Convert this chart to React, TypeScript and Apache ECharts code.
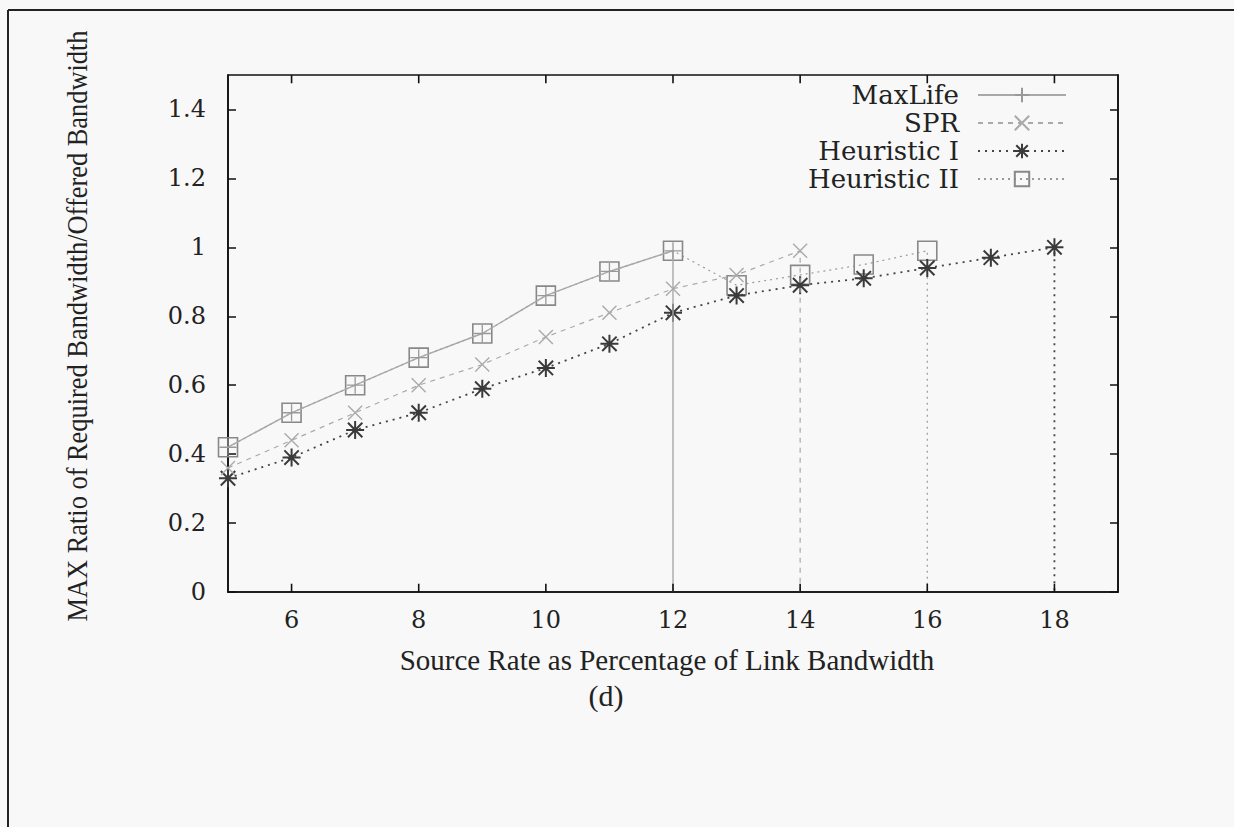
import React, { useEffect, useRef } from "react";
import * as echarts from "echarts";

const xValues = [5, 6, 7, 8, 9, 10, 11, 12, 13, 14, 15, 16, 17, 18];
const maxLife = [0.42, 0.52, 0.6, 0.68, 0.75, 0.86, 0.93, 0.99];
const spr = [0.36, 0.44, 0.52, 0.6, 0.66, 0.74, 0.81, 0.88, 0.92, 0.99];
const heuristic1 = [0.33, 0.39, 0.47, 0.52, 0.59, 0.65, 0.72, 0.81, 0.86, 0.89, 0.91, 0.94, 0.97, 1.0];
const heuristic2 = [0.42, 0.52, 0.6, 0.68, 0.75, 0.86, 0.93, 0.99, 0.89, 0.92, 0.95, 0.99];
const xTicks = [6, 8, 10, 12, 14, 16, 18];
const yTicks = [0, 0.2, 0.4, 0.6, 0.8, 1, 1.2, 1.4];
const seriesNames = ["MaxLife", "SPR", "Heuristic I", "Heuristic II"];

const PLUS = "path://M0,5L10,5M5,0L5,10";
const CROSS = "path://M0,0L10,10M0,10L10,0";
const STAR = "path://M0,5L10,5M5,0L5,10M1,1L9,9M1,9L9,1";
const SQUARE = "path://M0,0L10,0L10,10L0,10Z";

const Y_MIN = 0;
const Y_MAX = 1.5;
const TICK_LEN = 0.024; // tick length in y units (about 8px)

function toData(vals: number[]) {
  const pts: any[] = vals.map((v, i) => [xValues[i], v]);
  // drop line to the axis at the last feasible point
  pts.push({ value: [xValues[vals.length - 1], 0], symbol: "none" });
  return pts;
}

export default function App() {
  const ref = useRef<HTMLDivElement>(null);
  useEffect(() => {
    if (!ref.current) return;
    const chart = echarts.init(ref.current, null, { renderer: "svg" });
    const tickFont = { fontFamily: "DejaVu Serif", fontSize: 24, color: "#222" };
    const mkLine = () => ({ show: true, onZero: false, lineStyle: { color: "#111", width: 1.6 } });
    const yTick = () => ({
      show: true,
      inside: true,
      length: 8,
      customValues: yTicks.slice(),
      lineStyle: { color: "#111", width: 1.5 },
    });
    const xTickData: number[][] = [];
    xTicks.forEach((v) => {
      xTickData.push([v, Y_MIN, Y_MIN + TICK_LEN]);
      xTickData.push([v, Y_MAX, Y_MAX - TICK_LEN]);
    });
    chart.setOption({
      animation: false,
      backgroundColor: "#f8f8f8",
      grid: {
        left: 228,
        right: 116,
        top: 75,
        bottom: 235,
        containLabel: false,
        show: true,
        borderColor: "#111",
        borderWidth: 1.6,
        backgroundColor: "transparent",
      },
      legend: {
        orient: "vertical",
        right: 162,
        top: 77,
        align: "right",
        itemWidth: 88,
        itemHeight: 18,
        itemGap: 2,
        data: seriesNames,
        textStyle: {
          fontFamily: "DejaVu Serif",
          fontSize: 26,
          color: "#222",
          lineHeight: 26,
          padding: [0, 14, 0, 0],
        },
      },
      xAxis: [
        {
          type: "value",
          min: 5,
          max: 19,
          splitNumber: 7,
          position: "bottom",
          axisLine: mkLine(),
          splitLine: { show: false },
          axisTick: { show: false },
          axisLabel: { showMinLabel: false, showMaxLabel: false, margin: 16, ...tickFont },
        },
      ],
      yAxis: [
        {
          type: "value",
          min: Y_MIN,
          max: Y_MAX,
          position: "left",
          axisLine: mkLine(),
          splitLine: { show: false },
          axisTick: yTick(),
          axisLabel: { customValues: yTicks.slice(), margin: 22, ...tickFont },
        },
        {
          type: "value",
          min: Y_MIN,
          max: Y_MAX,
          position: "right",
          axisLine: mkLine(),
          splitLine: { show: false },
          axisTick: yTick(),
          axisLabel: { show: false },
        },
      ],
      graphic: [
        { type: "line", shape: { x1: 8, y1: 10, x2: 8, y2: 827 }, style: { stroke: "#222", lineWidth: 2 } },
        { type: "line", shape: { x1: 8, y1: 10, x2: 1234, y2: 10 }, style: { stroke: "#222", lineWidth: 2 } },
        {
          type: "text",
          x: 77,
          y: 326,
          rotation: Math.PI / 2,
          scaleX: 0.88,
          style: {
            text: "MAX Ratio of Required Bandwidth/Offered Bandwidth",
            font: '30px "Liberation Serif"',
            fill: "#222",
            align: "center",
            verticalAlign: "middle",
          },
        },
        {
          type: "text",
          x: 667,
          y: 660,
          style: {
            text: "Source Rate as Percentage of Link Bandwidth",
            font: '29px "Liberation Serif"',
            fill: "#222",
            align: "center",
            verticalAlign: "middle",
          },
        },
        {
          type: "text",
          x: 606,
          y: 695,
          style: {
            text: "(d)",
            font: '30px "Liberation Serif"',
            fill: "#222",
            align: "center",
            verticalAlign: "middle",
          },
        },
      ],
      series: [
        {
          name: "Heuristic II",
          type: "line",
          data: toData(heuristic2),
          symbol: SQUARE,
          symbolSize: 19,
          lineStyle: { color: "#9a9a9a", width: 1.2, type: [2, 4] },
          itemStyle: { color: "transparent", borderColor: "#888", borderWidth: 1.6 },
          z: 2,
        },
        {
          name: "Heuristic I",
          type: "line",
          data: toData(heuristic1),
          symbol: STAR,
          symbolSize: 18,
          lineStyle: { color: "#444", width: 1.8, type: [2, 5] },
          itemStyle: { color: "transparent", borderColor: "#3a3a3a", borderWidth: 2 },
          z: 3,
        },
        {
          name: "SPR",
          type: "line",
          data: toData(spr),
          symbol: CROSS,
          symbolSize: 14,
          lineStyle: { color: "#aaa", width: 1.2, type: [5, 5] },
          itemStyle: { color: "transparent", borderColor: "#aaa", borderWidth: 1.4 },
          z: 4,
        },
        {
          name: "MaxLife",
          type: "line",
          data: toData(maxLife),
          symbol: PLUS,
          symbolSize: 17,
          lineStyle: { color: "#a8a8a8", width: 1.4, type: "solid" },
          itemStyle: { color: "transparent", borderColor: "#999", borderWidth: 1.3 },
          z: 5,
        },
        {
          name: "xticks",
          type: "custom",
          silent: true,
          z: 6,
          encode: { x: 0, y: 1 },
          data: xTickData,
          renderItem: (params: any, api: any) => {
            const p0 = api.coord([api.value(0), api.value(1)]);
            const p1 = api.coord([api.value(0), api.value(2)]);
            return {
              type: "line",
              shape: { x1: p0[0], y1: p0[1], x2: p1[0], y2: p1[1] },
              style: { stroke: "#111", lineWidth: 1.6 },
            };
          },
        },
      ],
    });
    return () => chart.dispose();
  }, []);
  return (
    <div
      ref={ref}
      style={{ position: "fixed", left: 0, top: 0, width: 1234, height: 827 }}
    />
  );
}
